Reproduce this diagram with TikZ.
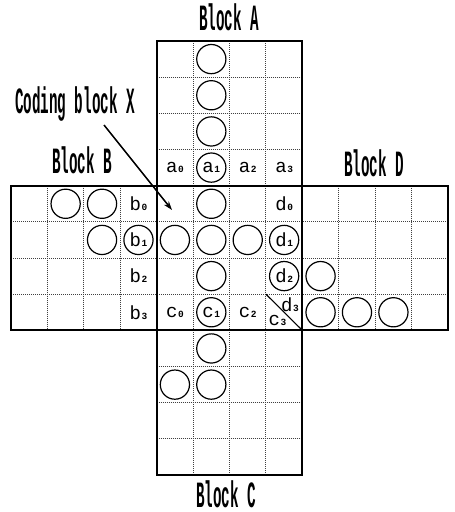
\documentclass[tikz,border=0pt]{standalone}
\usepackage{fontspec}
\usetikzlibrary{arrows.meta}
\newfontfamily\hdfont[FakeStretch=0.385]{Liberation Mono Bold}
\newfontfamily\lbfont{Liberation Mono}
\newcommand{\lbl}[2]{{\lbfont\fontsize{19}{19}\selectfont #1\kern0.6pt{\bfseries\fontsize{9.5}{9.5}\selectfont #2}}}
\tikzset{
  thickb/.style={line width=2pt, line join=miter},
  dotline/.style={line width=0.9pt, dash pattern=on 0.9pt off 1.1pt, black!75},
  coin/.style={line width=1.2pt},
  heading/.style={font=\hdfont\fontsize{37}{37}\selectfont, inner sep=0pt, anchor=base},
  cellnum/.style={inner sep=0pt},
}
\begin{document}
\begin{tikzpicture}[x=1pt,y=-1pt]
\useasboundingbox (0,0) rectangle (455,512);
\fill[white] (0,0) rectangle (455,512);
\begin{scope}[shift={(11,41)}, x=36.42pt, y=-36.17pt]
  % dotted inner grid lines
  \foreach \i in {1,2,3} {
    \draw[dotline] (4+\i,0) -- (4+\i,4);
    \draw[dotline] (4+\i,8) -- (4+\i,12);
    \draw[dotline] (4+\i,4) -- (4+\i,8);
    \draw[dotline] (4,\i) -- (8,\i);
    \draw[dotline] (4,8+\i) -- (8,8+\i);
    \draw[dotline] (0,4+\i) -- (12,4+\i);
    \draw[dotline] (\i,4) -- (\i,8);
    \draw[dotline] (8+\i,4) -- (8+\i,8);
  }
  % thick block outlines
  \draw[thickb] (4,0) rectangle (8,4);
  \draw[thickb] (0,4) rectangle (4,8);
  \draw[thickb] (4,4) rectangle (8,8);
  \draw[thickb] (8,4) rectangle (12,8);
  \draw[thickb] (4,8) rectangle (8,12);
  % coins
  \foreach \c/\r in {5/0,5/1,5/2,5/3,
                     1/4,2/4,2/5,3/5,
                     5/4,4/5,5/5,6/5,7/5,5/6,7/6,5/7,
                     8/6,8/7,9/7,10/7,
                     5/8,4/9,5/9} {
    \draw[coin] (\c+0.5,\r+0.5) circle[radius=14.6pt];
  }
  % labels
  \node[cellnum] (a0) at (4.5,3.5) {\lbl{a}{0}};
  \node[cellnum] (a1) at (5.5,3.5) {\lbl{a}{1}};
  \node[cellnum] (a2) at (6.5,3.5) {\lbl{a}{2}};
  \node[cellnum] (a3) at (7.5,3.5) {\lbl{a}{3}};
  \node[cellnum] (b0) at (3.5,4.5) {\lbl{b}{0}};
  \node[cellnum] (b1) at (3.5,5.5) {\lbl{b}{1}};
  \node[cellnum] (b2) at (3.5,6.5) {\lbl{b}{2}};
  \node[cellnum] (b3) at (3.5,7.5) {\lbl{b}{3}};
  \node[cellnum] (c0) at (4.5,7.5) {\lbl{c}{0}};
  \node[cellnum] (c1) at (5.5,7.5) {\lbl{c}{1}};
  \node[cellnum] (c2) at (6.5,7.5) {\lbl{c}{2}};
  \node[cellnum] (d0) at (7.5,4.5) {\lbl{d}{0}};
  \node[cellnum] (d1) at (7.5,5.5) {\lbl{d}{1}};
  \node[cellnum] (d2) at (7.5,6.5) {\lbl{d}{2}};
  % split cell
  \draw[line width=1.1pt] (7,7) -- (8,8);
  \node[cellnum] (d3) at (7.66,7.3) {\lbl{d}{3}};
  \node[cellnum] (c3) at (7.32,7.72) {\lbl{c}{3}};
\end{scope}
% headings
\node[heading] (hA) at (229,30) {Block A};
\node[heading] (hB) at (82,173) {Block B};
\node[heading] (hD) at (374,176) {Block D};
\node[heading] (hC) at (226,507) {Block C};
\node[heading] (hX) at (75,113) {Coding block X};
\coordinate (xs) at (104,125);
\coordinate (xe) at (172,210);
\draw[line width=1.5pt, -{Stealth[length=9pt,width=6pt]}] (xs) -- (xe);
\end{tikzpicture}
\end{document}
